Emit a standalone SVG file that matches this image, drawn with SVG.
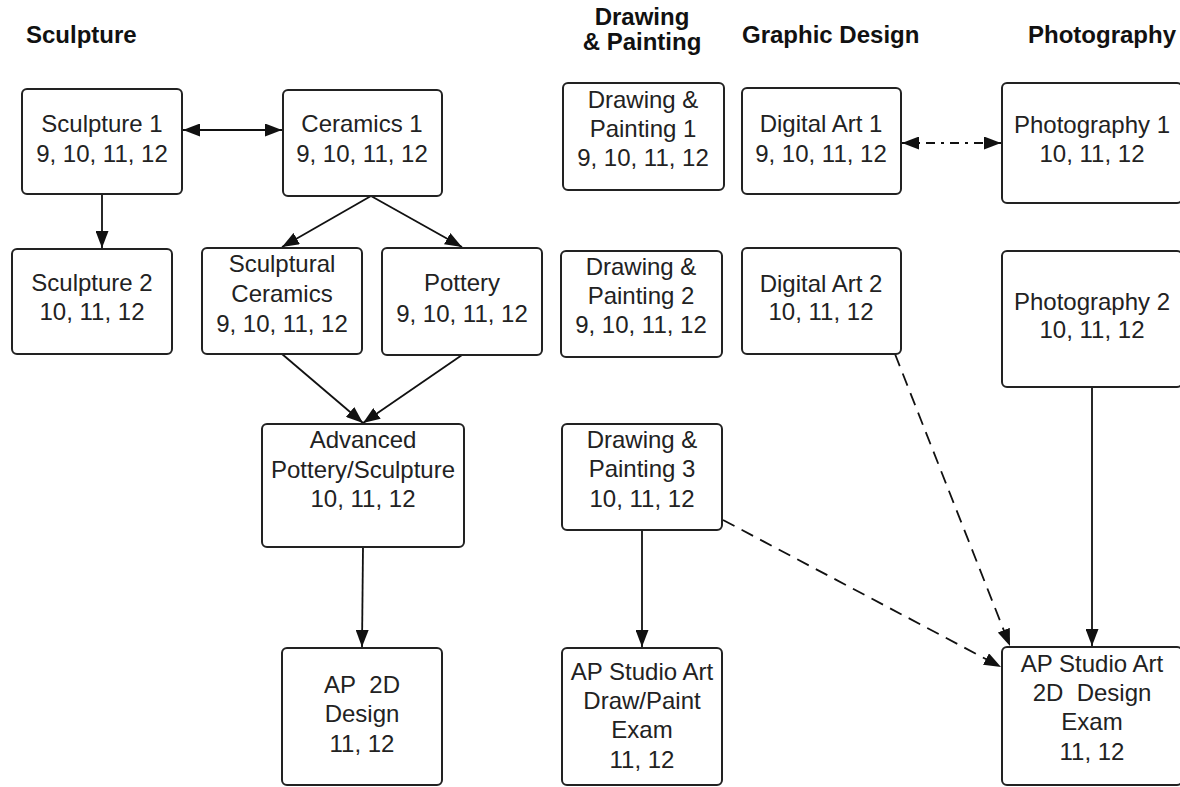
<svg xmlns="http://www.w3.org/2000/svg" width="1180" height="787" viewBox="0 0 1180 787">
<style>
.hdr{font-family:"Liberation Sans",Arial,sans-serif;font-weight:bold;font-size:24px;fill:#111}
.box{fill:#fff;stroke:#222;stroke-width:2}
.t{font-family:"Liberation Sans",Arial,sans-serif;font-size:24px;fill:#222;text-anchor:middle}
.c{fill:none;stroke:#111;stroke-width:1.8}
.dash{stroke-dasharray:13,8}
.dashdot{stroke-dasharray:9,6,3,6}
</style>
<defs>
<marker id="ah" viewBox="0 0 17 13" refX="17" refY="6.5" markerWidth="17" markerHeight="13" markerUnits="userSpaceOnUse" orient="auto-start-reverse">
<path d="M0,0 L17,6.5 L0,13 Z" fill="#111"/>
</marker>
</defs>
<rect width="1180" height="787" fill="#fff"/>
<g id="headers">
<text class="hdr" x="26" y="43">Sculpture</text>
<text class="hdr" x="642" y="25" text-anchor="middle">Drawing</text>
<text class="hdr" x="642" y="50" text-anchor="middle">&amp; Painting</text>
<text class="hdr" x="742" y="43">Graphic Design</text>
<text class="hdr" x="1028" y="43">Photography</text>
</g>
<g id="connectors">
<line class="c" x1="183" y1="130" x2="282" y2="130" marker-start="url(#ah)" marker-end="url(#ah)"/>
<line class="c" x1="102" y1="194" x2="102" y2="248" marker-end="url(#ah)"/>
<line class="c" x1="371" y1="196" x2="282" y2="247" marker-end="url(#ah)"/>
<line class="c" x1="371" y1="196" x2="462" y2="247" marker-end="url(#ah)"/>
<line class="c" x1="282" y1="354" x2="363" y2="423" marker-end="url(#ah)"/>
<line class="c" x1="462" y1="355" x2="363" y2="423" marker-end="url(#ah)"/>
<line class="c" x1="363" y1="547" x2="362" y2="647" marker-end="url(#ah)"/>
<line class="c" x1="642" y1="530" x2="642" y2="647" marker-end="url(#ah)"/>
<line class="c dashdot" x1="902" y1="143" x2="1001" y2="143" marker-start="url(#ah)" marker-end="url(#ah)"/>
<line class="c dash" x1="895" y1="354" x2="1010" y2="646" marker-end="url(#ah)"/>
<line class="c dash" x1="723" y1="520" x2="1001" y2="667" marker-end="url(#ah)"/>
<line class="c" x1="1092" y1="387" x2="1092" y2="646" marker-end="url(#ah)"/>
</g>
<g id="sculpture1"><rect class="box" x="22" y="89" width="160" height="105" rx="5"/><text class="t" x="102" y="132">Sculpture 1</text><text class="t" x="102" y="162">9, 10, 11, 12</text></g>
<g id="ceramics1"><rect class="box" x="283" y="90" width="159" height="106" rx="5"/><text class="t" x="362" y="132">Ceramics 1</text><text class="t" x="362" y="162">9, 10, 11, 12</text></g>
<g id="sculpture2"><rect class="box" x="12" y="249" width="160" height="105" rx="5"/><text class="t" x="92" y="291">Sculpture 2</text><text class="t" x="92" y="320">10, 11, 12</text></g>
<g id="sculpturalCeramics"><rect class="box" x="202" y="248" width="160" height="106" rx="5"/><text class="t" x="282" y="272">Sculptural</text><text class="t" x="282" y="302">Ceramics</text><text class="t" x="282" y="332">9, 10, 11, 12</text></g>
<g id="pottery"><rect class="box" x="382" y="248" width="160" height="107" rx="5"/><text class="t" x="462" y="291">Pottery</text><text class="t" x="462" y="322">9, 10, 11, 12</text></g>
<g id="advanced"><rect class="box" x="262" y="424" width="202" height="123" rx="5"/><text class="t" x="363" y="448">Advanced</text><text class="t" x="363" y="478">Pottery/Sculpture</text><text class="t" x="363" y="507">10, 11, 12</text></g>
<g id="ap2d"><rect class="box" x="282" y="648" width="160" height="137" rx="5"/><text class="t" x="362" y="693">AP&#160; 2D</text><text class="t" x="362" y="722">Design</text><text class="t" x="362" y="752">11, 12</text></g>
<g id="dp1"><rect class="box" x="563" y="83" width="161" height="107" rx="5"/><text class="t" x="643" y="108">Drawing &amp;</text><text class="t" x="643" y="137">Painting 1</text><text class="t" x="643" y="166">9, 10, 11, 12</text></g>
<g id="digital1"><rect class="box" x="742" y="88" width="159" height="106" rx="5"/><text class="t" x="821" y="132">Digital Art 1</text><text class="t" x="821" y="162">9, 10, 11, 12</text></g>
<g id="photo1"><rect class="box" x="1002" y="83" width="180" height="120" rx="5"/><text class="t" x="1092" y="133">Photography 1</text><text class="t" x="1092" y="162">10, 11, 12</text></g>
<g id="dp2"><rect class="box" x="561" y="251" width="161" height="106" rx="5"/><text class="t" x="641" y="275">Drawing &amp;</text><text class="t" x="641" y="304">Painting 2</text><text class="t" x="641" y="333">9, 10, 11, 12</text></g>
<g id="digital2"><rect class="box" x="742" y="248" width="159" height="106" rx="5"/><text class="t" x="821" y="292">Digital Art 2</text><text class="t" x="821" y="320">10, 11, 12</text></g>
<g id="photo2"><rect class="box" x="1002" y="251" width="180" height="136" rx="5"/><text class="t" x="1092" y="310">Photography 2</text><text class="t" x="1092" y="338">10, 11, 12</text></g>
<g id="dp3"><rect class="box" x="562" y="424" width="160" height="106" rx="5"/><text class="t" x="642" y="448">Drawing &amp;</text><text class="t" x="642" y="477">Painting 3</text><text class="t" x="642" y="507">10, 11, 12</text></g>
<g id="apDrawPaint"><rect class="box" x="562" y="648" width="160" height="137" rx="5"/><text class="t" x="642" y="680">AP Studio Art</text><text class="t" x="642" y="709">Draw/Paint</text><text class="t" x="642" y="738">Exam</text><text class="t" x="642" y="768">11, 12</text></g>
<g id="ap2dExam"><rect class="box" x="1002" y="647" width="180" height="138" rx="5"/><text class="t" x="1092" y="672">AP Studio Art</text><text class="t" x="1092" y="701">2D&#160; Design</text><text class="t" x="1092" y="730">Exam</text><text class="t" x="1092" y="760">11, 12</text></g>
</svg>
